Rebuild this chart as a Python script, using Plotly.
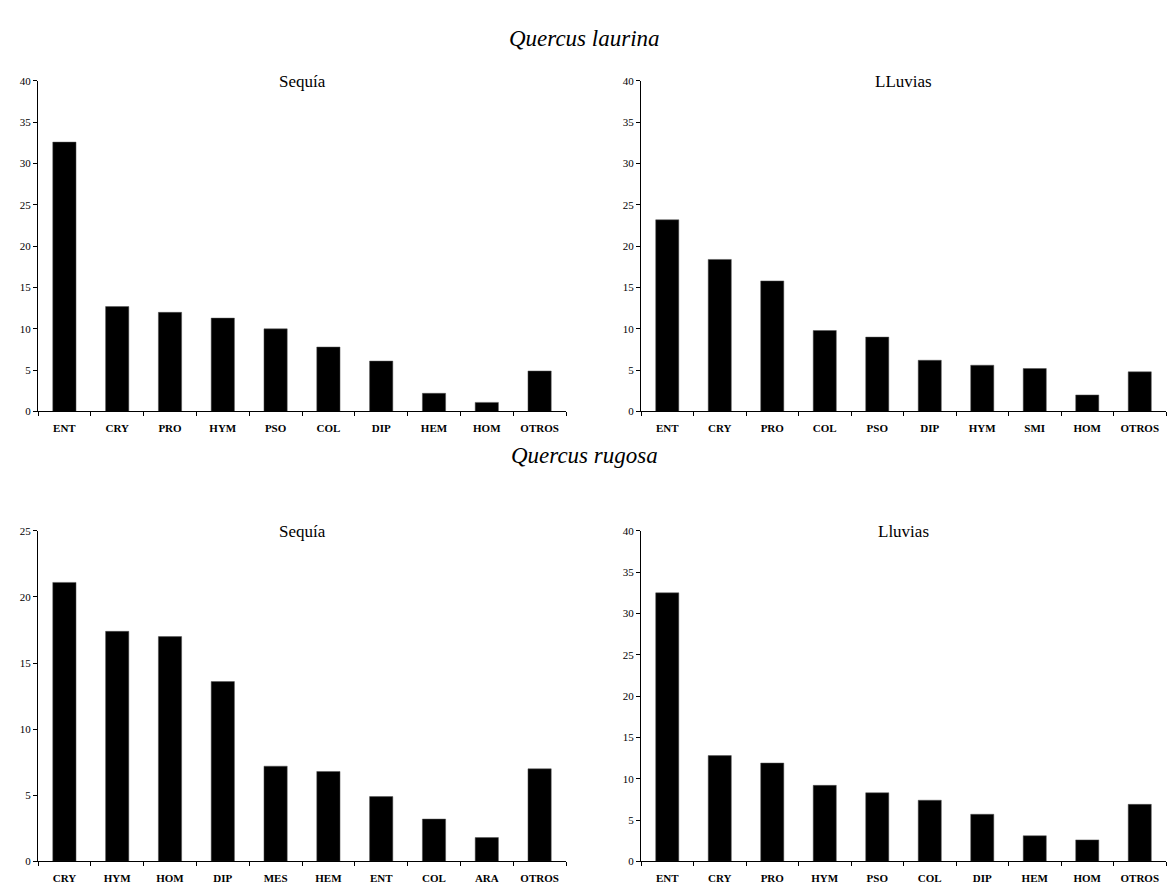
import plotly.graph_objects as go

W, H = 1168, 894

# ---- data ----
ql_seq_cats = ["ENT", "CRY", "PRO", "HYM", "PSO", "COL", "DIP", "HEM", "HOM", "OTROS"]
ql_seq_vals = [32.6, 12.7, 12.0, 11.3, 10.0, 7.8, 6.1, 2.2, 1.1, 4.9]

ql_llu_cats = ["ENT", "CRY", "PRO", "COL", "PSO", "DIP", "HYM", "SMI", "HOM", "OTROS"]
ql_llu_vals = [23.2, 18.4, 15.8, 9.8, 9.0, 6.2, 5.6, 5.2, 2.0, 4.8]

qr_seq_cats = ["CRY", "HYM", "HOM", "DIP", "MES", "HEM", "ENT", "COL", "ARA", "OTROS"]
qr_seq_vals = [21.1, 17.4, 17.0, 13.6, 7.2, 6.8, 4.9, 3.2, 1.8, 7.0]

qr_llu_cats = ["ENT", "CRY", "PRO", "HYM", "PSO", "COL", "DIP", "HEM", "HOM", "OTROS"]
qr_llu_vals = [32.5, 12.8, 11.9, 9.2, 8.3, 7.4, 5.7, 3.1, 2.6, 6.9]

y_max = [40, 40, 25, 40]
panel_titles = ["Sequía", "LLuvias", "Sequía", "Lluvias"]
species = ["Quercus laurina", "Quercus rugosa"]

FONT = "Liberation Serif"

def px_x(v):
    return v / W

def px_y(v):
    return 1 - v / H

# panel domains in pixels (left, right, top, bottom)
panels = [
    (38, 566, 76, 411),
    (641, 1166, 76, 411),
    (38, 566, 532, 867),
    (641, 1166, 532, 867),
]

datasets = [
    (ql_seq_cats, ql_seq_vals),
    (ql_llu_cats, ql_llu_vals),
    (qr_seq_cats, qr_seq_vals),
    (qr_llu_cats, qr_llu_vals),
]

fig = go.Figure()
layout = dict(
    width=W, height=H,
    margin=dict(l=0, r=0, t=0, b=0),
    paper_bgcolor="white", plot_bgcolor="white",
    showlegend=False,
    bargap=0.56,
    font=dict(family=FONT, color="black"),
)

annotations = []
for i, ((cats, vals), (l, r, t, b), ym, ttl) in enumerate(zip(datasets, panels, y_max, panel_titles)):
    n = "" if i == 0 else str(i + 1)
    fig.add_trace(go.Bar(
        x=cats, y=vals, xaxis="x" + n, yaxis="y" + n,
        marker=dict(color="black", line=dict(color="#555555", width=0.5)),
        hoverinfo="x+y",
    ))
    layout["xaxis" + n] = dict(
        domain=[px_x(l), px_x(r)], anchor="y" + n,
        showline=True, linecolor="black", linewidth=1,
        ticks="outside", ticklen=4, tickcolor="black", tickson="boundaries",
        showgrid=False, zeroline=False,
        tickfont=dict(family=FONT, size=11, color="black", weight="bold"),
        range=[-0.5, len(cats) - 0.5],
        ticklabelstandoff=6,
    )
    layout["yaxis" + n] = dict(
        domain=[px_y(b), px_y(t)], anchor="x" + n,
        range=[0, ym], dtick=5,
        showline=True, linecolor="black", linewidth=1,
        ticks="outside", ticklen=4, tickcolor="black",
        showgrid=False, zeroline=False,
        tickfont=dict(family=FONT, size=11, color="black"),
    )
    annotations.append(dict(
        text=ttl, x=px_x((l + r) / 2), y=px_y(t + 1), xref="paper", yref="paper",
        xanchor="center", yanchor="middle", showarrow=False,
        font=dict(family=FONT, size=17, color="black"),
    ))

annotations.append(dict(
    text="<i>" + species[0] + "</i>", x=0.5, y=px_y(33), xref="paper", yref="paper",
    xanchor="center", yanchor="middle", showarrow=False,
    font=dict(family=FONT, size=23, color="black"),
))
annotations.append(dict(
    text="<i>" + species[1] + "</i>", x=0.5, y=px_y(456), xref="paper", yref="paper",
    xanchor="center", yanchor="middle", showarrow=False,
    font=dict(family=FONT, size=23, color="black"),
))

layout["annotations"] = annotations
fig.update_layout(**layout)
fig.write_html(
    "out.html",
    config={"displayModeBar": False},
    post_script="document.body.style.margin='0';document.body.style.overflow='hidden';",
)
